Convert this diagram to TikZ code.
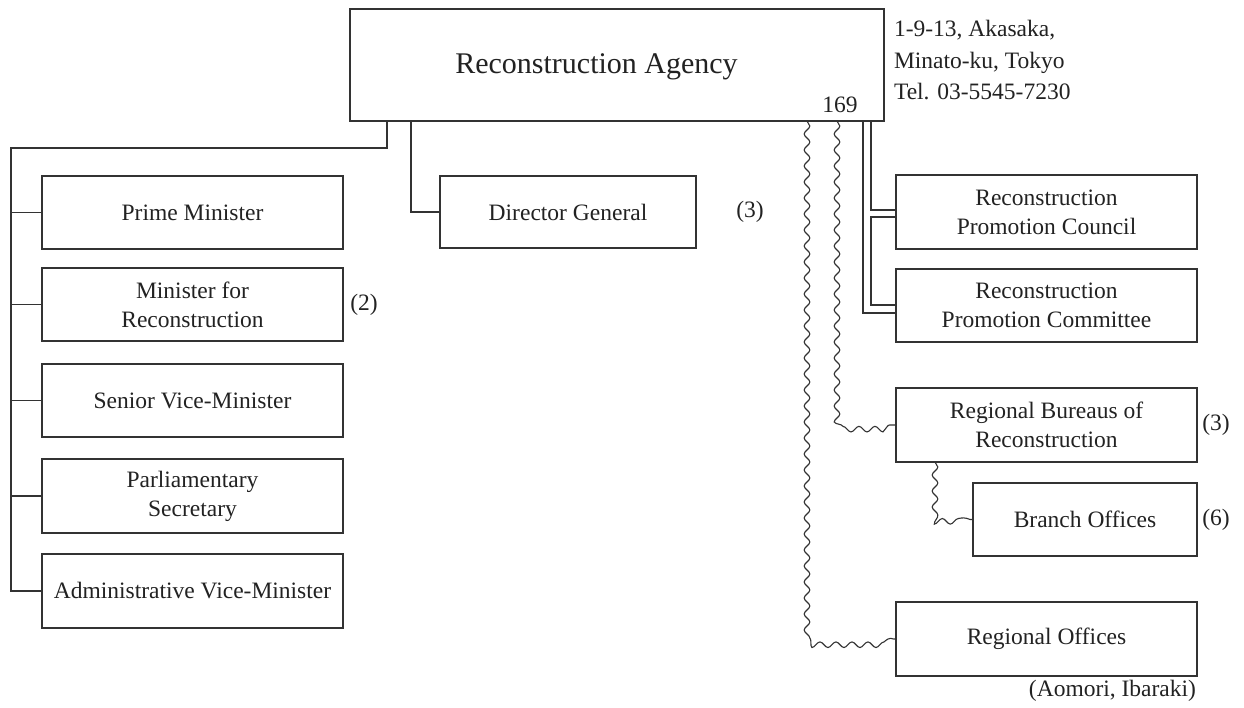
\documentclass[tikz,border=0pt]{standalone}
\usepackage{fontspec}
\setmainfont{Liberation Serif}
\usetikzlibrary{decorations.pathmorphing}
\definecolor{lc}{HTML}{333333}
\definecolor{tc}{HTML}{222222}
\begin{document}
\begin{tikzpicture}[x=1pt,y=-1pt,
  box/.style={draw=lc, line width=1.2pt, inner sep=0pt, outer sep=0pt, anchor=north west,
    align=center, text=tc, font=\fontsize{23.5}{29}\selectfont},
  lbl/.style={inner sep=0pt, outer sep=0pt, text=tc, font=\fontsize{23.5}{29}\selectfont},
  conn/.style={draw=lc, line width=1.1pt},
  wavy/.style={draw=lc, line width=1.1pt, decorate,
    decoration={snake, segment length=16pt, amplitude=2.8pt}}]
\useasboundingbox (0,0) rectangle (1244,708);
\fill[white] (0,0) rectangle (1244,708);

% main box
\node[box, minimum width=534pt, minimum height=112pt] (ra) at (350,9) {};
\node[lbl, anchor=base, font=\fontsize{30}{36}\selectfont] (rat) at (596.5,74) {Reconstruction Agency};
\node[lbl, anchor=base] (n169) at (840,113) {169};
\node[lbl, anchor=base west] (ad1) at (894,37) {1-9-13, Akasaka,};
\node[lbl, anchor=base west] (ad2) at (894,68.5) {Minato-ku, Tokyo};
\node[lbl, anchor=base west] (ad3) at (894,100) {Tel. 03-5545-7230};

% left column
\node[box, minimum width=301pt, minimum height=73pt] (pm) at (42,176) {Prime Minister};
\node[box, minimum width=301pt, minimum height=73pt] (mr) at (42,268) {Minister for\\Reconstruction};
\node[box, minimum width=301pt, minimum height=73pt] (sv) at (42,364) {Senior Vice-Minister};
\node[box, minimum width=301pt, minimum height=74pt] (ps) at (42,459) {Parliamentary\\Secretary};
\node[box, minimum width=301pt, minimum height=74pt] (av) at (42,554) {Administrative Vice-Minister};
\node[lbl] (n2) at (364,304.5) {(2)};

% director general
\node[box, minimum width=256pt, minimum height=72pt] (dg) at (440,176) {Director General};
\node[lbl] (n3a) at (750,212) {(3)};

% right column
\node[box, minimum width=301pt, minimum height=74pt] (c1) at (896,175) {Reconstruction\\Promotion Council};
\node[box, minimum width=301pt, minimum height=73pt] (c2) at (896,269) {Reconstruction\\Promotion Committee};
\node[box, minimum width=301pt, minimum height=74pt] (rb) at (896,388) {Regional Bureaus of\\Reconstruction};
\node[lbl] (n3b) at (1216,425) {(3)};
\node[box, minimum width=224pt, minimum height=73pt] (bo) at (973,483) {Branch Offices};
\node[lbl] (n6) at (1216,519.5) {(6)};
\node[box, minimum width=301pt, minimum height=74pt] (ro) at (896,602) {Regional Offices};
\node[lbl, anchor=east] (aom) at (1196,691) {(Aomori, Ibaraki)};

% left connectors
\coordinate (sp) at (11,148);
\draw[conn] ([xshift=37pt]ra.south west) |- (sp) |- (av.west);
\draw[conn] (sp |- pm.west) -- (pm.west);
\draw[conn] (sp |- mr.west) -- (mr.west);
\draw[conn] (sp |- sv.west) -- (sv.west);
\draw[conn] (sp |- ps.west) -- (ps.west);
\draw[conn] ([xshift=61pt]ra.south west) |- (dg.west);

% double connectors
\draw[conn] ([xshift=-13pt]ra.south east) |- ([yshift=2pt]c1.west);
\draw[conn] ([yshift=-5pt]c1.west) -| ([xshift=-25pt,yshift=0.5pt]c2.west) -- ([yshift=0.5pt]c2.west);
\draw[conn] ([xshift=-21pt]ra.south east) |- ([yshift=-7.5pt]c2.west);

% wavy connectors
\coordinate (w1) at ([xshift=-77pt]ra.south east);
\coordinate (k1) at (w1 |- ro.west);
\draw[wavy] (w1) -- ([yshift=6pt]k1) to[out=-90,in=180] ([xshift=6pt]k1) -- (ro.west);
\coordinate (w2) at ([xshift=-47pt]ra.south east);
\coordinate (k2) at (w2 |- rb.west);
\draw[wavy] (w2) -- ([yshift=6pt]k2) to[out=-90,in=180] ([xshift=6pt]k2) -- (rb.west);
\coordinate (w3) at ([xshift=39pt]rb.south west);
\coordinate (k3) at (w3 |- bo.west);
\draw[wavy] (w3) -- ([yshift=6pt]k3) to[out=-90,in=180] ([xshift=6pt]k3) -- (bo.west);
\end{tikzpicture}
\end{document}
